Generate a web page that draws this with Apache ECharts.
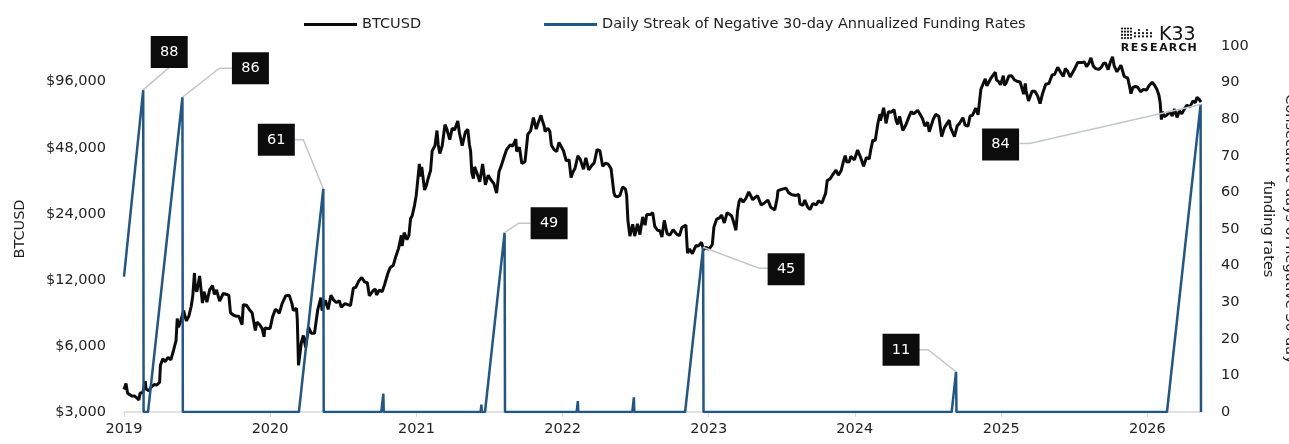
<!DOCTYPE html>
<html>
<head>
<meta charset="utf-8">
<title>BTCUSD vs negative funding streak</title>
<script src="https://cdn.jsdelivr.net/npm/echarts@6.0.0/dist/echarts.min.js"></script>
<style>
  html, body { margin: 0; padding: 0; background: #fff; }
  #chart { width: 1289px; height: 444px; }
</style>
</head>
<body>
<div id="chart"></div>
<script>
  // BTCUSD closes, one pair of arrays per year (MM-DD, USD)
  const btcDays2019 = [
    '01-01','01-06','01-10','01-15','01-20','01-27','02-02','02-07','02-10','02-17',
    '02-23','02-25','03-04','03-10','03-17','03-24','03-31','04-02','04-08','04-14',
    '04-21','04-28','05-05','05-11','05-14','05-17','05-22','05-30','06-03','06-06',
    '06-12','06-18','06-22','06-26','06-28','07-02','07-09','07-16','07-20','07-27',
    '08-03','08-10','08-15','08-20','08-28','09-06','09-15','09-20','09-24','10-01',
    '10-08','10-15','10-23','10-26','11-03','11-10','11-17','11-22','11-25','11-29',
    '12-06','12-12','12-17','12-19','12-26'
  ];
  const btcClose2019 = [
    3800,4050,3650,3600,3550,3550,3480,3400,3650,3680,
    4150,3820,3750,3900,4000,3980,4100,4900,5250,5080,
    5330,5180,5750,6350,8000,7300,7700,8700,8100,7800,
    8200,9100,10200,12900,11000,10600,12500,9400,10600,9500,
    10800,11300,10300,10800,9600,10400,10300,10200,8500,8300,
    8200,8200,7500,9250,9200,8800,8500,7600,7050,7700,
    7500,7200,6600,7250,7200
  ];
  const btcDays2020 = [
    '01-01','01-07','01-14','01-19','01-24','01-31','02-09','02-13','02-18','02-25',
    '02-28','03-07','03-09','03-12','03-16','03-19','03-24','03-30','04-06','04-13',
    '04-21','04-29','05-07','05-10','05-18','05-25','06-01','06-08','06-15','06-22',
    '06-27','07-06','07-13','07-20','07-27','08-02','08-10','08-17','08-24','08-31',
    '09-05','09-14','09-20','09-23','09-30','10-07','10-13','10-21','10-27','11-04',
    '11-10','11-17','11-24','11-26','12-01','12-08','12-13','12-17','12-21','12-27',
    '12-31'
  ];
  const btcClose2020 = [
    7200,8100,8800,8700,8450,9350,10150,10300,10200,9300,
    8700,8900,7900,4900,5000,6200,6700,5900,7300,6850,
    6850,8750,9950,8700,9700,8800,10200,9700,9450,9650,
    9000,9350,9250,9160,11000,11100,11900,12300,11750,11650,
    10150,10700,10900,10250,10800,10600,11400,12800,13650,14000,
    15300,16700,19150,17100,19700,18300,19200,22800,23500,26300,
    29000
  ];
  const btcDays2021 = [
    '01-03','01-08','01-11','01-14','01-21','01-26','01-29','02-05','02-09','02-16',
    '02-21','02-24','02-28','03-06','03-13','03-17','03-25','03-31','04-06','04-14',
    '04-18','04-25','05-03','05-09','05-13','05-16','05-19','05-23','05-26','06-01',
    '06-08','06-15','06-22','06-29','07-06','07-13','07-20','07-26','08-01','08-08',
    '08-14','08-23','08-29','09-06','09-08','09-15','09-21','09-29','10-06','10-13',
    '10-20','10-27','11-02','11-08','11-10','11-16','11-18','11-25','11-30','12-04',
    '12-10','12-17','12-23','12-27'
  ];
  const btcClose2021 = [
    32800,40500,35500,39200,30800,32500,34300,37800,46400,49100,
    57500,49700,45200,48900,61200,58900,52300,58800,57900,63500,
    56200,49000,56600,58200,49700,46400,37000,34700,39300,36700,
    33600,40500,32500,36000,34200,33000,29800,37300,39900,43800,
    47100,49500,48800,52600,46200,48200,40700,41500,55300,57300,
    65900,58400,63200,67500,64900,60100,56900,58900,57000,49300,
    47200,46100,50800,50700
  ];
  const btcDays2022 = [
    '01-03','01-10','01-17','01-22','01-26','02-01','02-08','02-14','02-22','02-28',
    '03-07','03-14','03-21','03-28','04-04','04-11','04-18','04-25','05-02','05-09',
    '05-12','05-18','05-24','05-31','06-07','06-10','06-13','06-18','06-25','06-30',
    '07-07','07-13','07-20','07-26','07-30','08-08','08-14','08-19','08-26','09-01',
    '09-06','09-12','09-19','09-26','10-04','10-13','10-20','10-26','11-05','11-09',
    '11-14','11-21','11-30','12-06','12-14','12-19','12-26','12-31'
  ];
  const btcClose2022 = [
    46500,41800,42300,35100,36900,38700,44100,42500,38300,43200,
    38000,39700,41000,47100,46600,39500,40800,40400,38500,30000,
    28900,28700,29100,31800,31100,29000,22500,19000,21500,19000,
    21600,19300,23200,21300,23800,23800,24300,21100,20200,20100,
    18800,22400,19500,19200,20300,19400,19100,20800,21300,15900,
    16600,15800,17200,17100,17800,16500,16900,16550
  ];
  const btcDays2023 = [
    '01-06','01-10','01-14','01-21','01-28','02-02','02-09','02-16','02-20','02-27',
    '03-03','03-10','03-14','03-18','03-22','03-28','04-04','04-11','04-14','04-21',
    '04-26','05-03','05-12','05-20','05-29','06-05','06-15','06-21','06-23','07-04',
    '07-13','07-20','07-28','08-07','08-14','08-17','08-24','08-29','09-05','09-11',
    '09-18','09-27','10-02','10-11','10-16','10-20','10-24','10-31','11-09','11-15',
    '11-21','11-28','12-04','12-08','12-12','12-18','12-22','12-31'
  ];
  const btcClose2023 = [
    16950,17400,20900,22700,23000,23700,21800,24300,24800,23500,
    22400,20200,24700,27400,28200,27100,28200,30200,30500,27800,
    28400,29000,26300,26900,27700,25700,25000,28300,30600,31100,
    31400,29900,29300,29100,29400,26600,26200,27700,25800,25100,
    26700,26400,27500,26900,28500,29700,34000,34600,36700,37900,
    36000,37800,41900,44200,41300,41400,43800,42300
  ];
  const btcDays2024 = [
    '01-03','01-08','01-11','01-16','01-23','01-30','02-06','02-10','02-15','02-21',
    '02-28','03-04','03-05','03-13','03-19','03-25','04-01','04-08','04-13','04-17',
    '04-22','04-30','05-08','05-15','05-21','05-27','06-06','06-12','06-18','06-24',
    '07-01','07-05','07-08','07-15','07-21','07-29','08-05','08-12','08-24','08-27',
    '09-06','09-13','09-18','09-27','10-03','10-10','10-15','10-21','10-29','11-04',
    '11-11','11-13','11-22','11-26','12-05','12-09','12-17','12-20','12-26','12-30'
  ];
  const btcClose2024 = [
    42800,46900,46600,43100,39500,43300,42700,47100,52000,51800,
    62400,68300,63800,73000,62000,70000,69700,71600,64000,61300,
    66800,57500,61200,66200,70100,68500,71100,68200,65200,60300,
    62700,56700,55800,64700,68100,66800,54000,59300,64100,59400,
    53900,60500,61700,65800,60700,60300,67000,67400,72700,67800,
    88700,90500,98900,91900,98800,97400,106100,97800,95800,92800
  ];
  const btcDays2025 = [
    '01-06','01-09','01-13','01-20','01-22','01-27','01-31','02-03','02-09','02-17',
    '02-21','02-26','03-02','03-04','03-10','03-19','03-26','04-02','04-08','04-14',
    '04-22','04-30','05-08','05-14','05-22','05-31','06-05','06-10','06-16','06-22',
    '06-30','07-03','07-11','07-14','07-21','07-28','08-02','08-08','08-13','08-19',
    '08-25','09-01','09-07','09-13','09-18','09-25','10-01','10-06','10-10','10-17',
    '10-27','11-04','11-13','11-17','11-21','11-26','12-02','12-08','12-15','12-22',
    '12-30'
  ];
  const btcClose2025 = [
    102100,92500,94500,102000,103700,102100,102400,97700,96500,95700,
    96100,84200,94200,87300,78500,86800,86900,82500,76300,84600,
    93400,94200,103000,103500,111700,104600,101600,110200,106800,100900,
    107200,109600,117500,119800,117400,118000,112500,116700,123300,112900,
    110100,109200,111100,115900,117100,109000,118600,124700,113200,106500,
    114100,101500,99700,92200,84700,90500,91300,90600,86400,88500,
    87900
  ];
  const btcDays2026 = [
    '01-05','01-13','01-19','01-25','01-30','02-02','02-05','02-08','02-12','02-18',
    '02-26','03-04','03-10','03-16','03-22','03-28','04-03','04-10','04-17','04-25',
    '05-01','05-05','05-10','05-15'
  ];
  const btcClose2026 = [
    92000,95500,92500,88500,83000,77000,64500,70000,66500,67500,
    70000,67000,72000,66000,70500,68500,72000,75000,73500,78500,
    77000,81500,80000,77500
  ];

  // consecutive days of negative 30-day annualized funding (turning points of the streak)
  const streakDates = [
    '2019-01-01','2019-02-18','2019-02-19','2019-03-02','2019-05-27','2019-05-28',
    '2020-03-13','2020-05-13','2020-05-14','2020-10-05','2020-10-10','2020-10-11',
    '2021-06-10','2021-06-12','2021-06-13','2021-06-21','2021-08-09','2021-08-10',
    '2022-02-05','2022-02-08','2022-02-09','2022-06-24','2022-06-28','2022-06-29',
    '2022-11-03','2022-12-18','2022-12-19','2024-08-30','2024-09-10','2024-09-11',
    '2026-02-19','2026-05-14','2026-05-15'
  ];
  const streakValues = [
    37, 88, 0, 0, 86, 0,
    0, 61, 0, 0, 5, 0,
    0, 2, 0, 0, 49, 0,
    0, 3, 0, 0, 4, 0,
    0, 45, 0, 0, 11, 0,
    0, 84, 0
  ];

  const priceBase = 3000;     // bottom of the log2 price axis
  const priceTopDoublings = 5.54;

  // where each streak call-out box sits relative to its peak: box centre and leader elbow
  const calloutLayouts = [
    { box: [26, -38], leader: [[0, 0], [25.5, -22]] },
    { box: [68, -29], leader: [[0, 0], [37, -29], [50, -29]] },
    { box: [-47, -49], leader: [[0, 0], [-20, -49], [-29, -49]] },
    { box: [44.5, -9.5], leader: [[0, 0], [14, -9.5], [26, -9.5]] },
    { box: [83, 22], leader: [[0, 0], [56, 21], [65, 21]] },
    { box: [-55, -22], leader: [[0, 0], [-28, -22], [-37, -22]] },
    { box: [-200, 40], leader: [[0, 0], [-171, 39], [-181, 39]] }
  ];

  const FONT = '"DejaVu Sans", sans-serif';
  const FS = 14.5;
  const BLUE = '#215687';

  const btcYears = [
    [2019, btcDays2019, btcClose2019], [2020, btcDays2020, btcClose2020],
    [2021, btcDays2021, btcClose2021], [2022, btcDays2022, btcClose2022],
    [2023, btcDays2023, btcClose2023], [2024, btcDays2024, btcClose2024],
    [2025, btcDays2025, btcClose2025], [2026, btcDays2026, btcClose2026]
  ];
  const btcData = [];
  btcYears.forEach(([year, days, closes]) => {
    days.forEach((d, i) => btcData.push([year + '-' + d, Math.log2(closes[i] / priceBase)]));
  });
  const streakData = streakDates.map((d, i) => [d, streakValues[i]]);
  // peaks worth a call-out: streak of 10+ days ending the next day
  const peakData = streakData.filter((p, i) => p[1] >= 10 && streakValues[i + 1] === 0);

  // K33 logo: dot mark, wordmark, spaced RESEARCH
  const logo = [];
  for (let c = 0; c < 4; c++) {
    for (let r = 0; r < 4; r++) logo.push({ type: 'circle', shape: { cx: 1122 + c * 3, cy: 28.5 + r * 3.2, r: 1.1 }, style: { fill: '#111' } });
  }
  [[1135, [1, 2]], [1139, [0, 1, 2]], [1143, [1, 2]], [1147, [0, 1, 2]], [1151, [1, 2]]].forEach(([x, rows]) => {
    rows.forEach(r => logo.push({ type: 'circle', shape: { cx: x, cy: 30 + r * 3.2, r: 1.1 }, style: { fill: '#111' } }));
  });
  logo.push({ type: 'text', x: 1159, y: 26, style: { text: 'K33', font: '19px "DejaVu Sans"', fill: '#111' } });
  'RESEARCH'.split('').forEach((ch, i) => {
    logo.push({ type: 'text', x: 1125 + i * 9.6, y: 48, style: { text: ch, font: 'bold 11px "DejaVu Sans"', fill: '#111', align: 'center', verticalAlign: 'middle' } });
  });

  const chart = echarts.init(document.getElementById('chart'));
  chart.setOption({
    animation: false,
    backgroundColor: '#fff',
    textStyle: { fontFamily: FONT },
    grid: { left: 124, right: 88, top: 46, bottom: 32, containLabel: false, outerBoundsMode: 'none' },
    legend: {
      data: ['BTCUSD', 'Daily Streak of Negative 30-day Annualized Funding Rates'],
      left: 299,
      top: 12,
      icon: 'rect',
      itemWidth: 53,
      itemHeight: 3,
      itemGap: 123,
      textStyle: { fontSize: FS, color: '#222', fontFamily: FONT }
    },
    graphic: [{ type: 'group', children: logo }],
    xAxis: {
      type: 'time',
      min: '2019-01-01',
      max: '2026-05-15',
      splitNumber: 7,
      axisLine: { lineStyle: { color: '#e2e2e2', width: 2 } },
      axisTick: { show: true, length: 5, lineStyle: { color: '#d8d8d8' } },
      axisLabel: { formatter: '{yyyy}', color: '#222', fontSize: FS, margin: 10, fontFamily: FONT },
      splitLine: { show: false }
    },
    yAxis: [
      {
        type: 'value',
        min: 0,
        max: priceTopDoublings,
        interval: 1,
        name: 'BTCUSD',
        nameLocation: 'middle',
        nameRotate: 90,
        nameGap: 96,
        nameMoveOverlap: false,
        nameTextStyle: { fontSize: FS, color: '#222' },
        axisLine: { show: false },
        axisTick: { show: false },
        splitLine: { show: false },
        axisLabel: {
          color: '#222',
          fontSize: FS,
          margin: 18,
          formatter: v => Math.abs(v - Math.round(v)) > 1e-6 ? '' :
            '$' + (priceBase * Math.pow(2, Math.round(v))).toLocaleString('en-US')
        }
      },
      {
        type: 'value',
        min: 0,
        max: 100,
        interval: 10,
        name: 'Consecutive days of negative 30-day\nfunding rates',
        nameLocation: 'middle',
        nameRotate: -90,
        nameGap: 56,
        nameMoveOverlap: false,
        nameTextStyle: { fontSize: FS, color: '#222', lineHeight: 22 },
        axisLine: { show: false },
        axisTick: { show: false },
        splitLine: { show: false },
        axisLabel: { color: '#222', fontSize: FS, margin: 20 }
      }
    ],
    series: [
      {
        name: 'BTCUSD',
        type: 'line',
        data: btcData,
        showSymbol: false,
        color: '#0c0c0c',
        lineStyle: { width: 3, color: '#0c0c0c' },
        z: 2
      },
      {
        name: 'Daily Streak of Negative 30-day Annualized Funding Rates',
        type: 'line',
        yAxisIndex: 1,
        data: streakData,
        showSymbol: false,
        color: BLUE,
        lineStyle: { width: 2.5, color: BLUE },
        z: 3
      },
      {
        type: 'custom',
        yAxisIndex: 1,
        silent: true,
        z: 10,
        data: peakData,
        renderItem: function (params, api) {
          const p = api.coord([api.value(0), api.value(1)]);
          const o = calloutLayouts[params.dataIndex];
          return {
            type: 'group',
            children: [
              {
                type: 'polyline',
                shape: { points: o.leader.map(q => [p[0] + q[0], p[1] + q[1]]) },
                style: { stroke: '#c3c7cc', lineWidth: 1.5, fill: null }
              },
              {
                type: 'rect',
                shape: { x: p[0] + o.box[0] - 18.5, y: p[1] + o.box[1] - 16, width: 37, height: 32 },
                style: { fill: '#0c0c0c' }
              },
              {
                type: 'text',
                x: p[0] + o.box[0],
                y: p[1] + o.box[1],
                style: { text: String(api.value(1)), fill: '#fff', font: FS + 'px ' + FONT, align: 'center', verticalAlign: 'middle' }
              }
            ]
          };
        }
      }
    ]
  });
</script>
</body>
</html>
